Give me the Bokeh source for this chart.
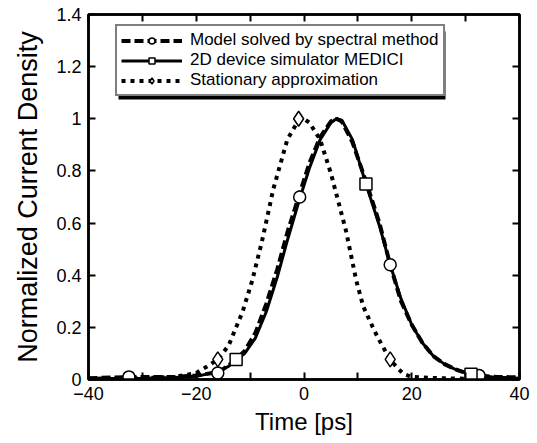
from bokeh.plotting import figure
from bokeh.models import (Range1d, LinearAxis, FixedTicker, CustomJSTickFormatter,
                          Legend, LegendItem, BoxAnnotation)
from bokeh.embed import file_html
from bokeh.resources import INLINE

# ---- data ----
model_x = [-40, -32, -24, -20, -17, -15, -13, -11, -9, -7, -5, -3, -1, 1, 3, 5, 6, 7, 9, 11.5,
           14, 16, 18, 20, 22, 24, 26, 28, 30, 32, 36, 40]
model_y = [0.005, 0.01, 0.01, 0.015, 0.025, 0.04, 0.07, 0.11, 0.18, 0.29, 0.42, 0.57, 0.70, 0.83,
           0.93, 0.99, 1.0, 0.99, 0.91, 0.76, 0.60, 0.44, 0.30, 0.21, 0.14, 0.09, 0.06, 0.04,
           0.025, 0.015, 0.01, 0.008]
model_mx = [-32.5, -16, -0.8, 16, 32.5]
model_my = [0.01, 0.025, 0.70, 0.44, 0.015]

medici_x = [-40, -30, -24, -20, -16, -14, -12.6, -11, -9, -7, -5, -3, -1, 1, 3, 5, 6, 7, 9, 11.5,
            14, 16, 18, 20, 22, 24, 26, 28, 31, 35, 40]
medici_y = [0.003, 0.005, 0.008, 0.012, 0.03, 0.05, 0.077, 0.10, 0.16, 0.26, 0.39, 0.54, 0.68,
            0.81, 0.92, 0.985, 1.0, 0.995, 0.92, 0.75, 0.59, 0.44, 0.31, 0.21, 0.14, 0.09, 0.06,
            0.04, 0.02, 0.01, 0.005]
medici_mx = [-12.6, 11.5, 31]
medici_my = [0.077, 0.75, 0.02]

stat_x = [-40, -30, -24, -20, -18, -16, -14, -13.4, -11.4, -9.6, -7.8, -5.7, -3.1, -1, 0, 1, 3,
          5, 7.8, 9.7, 11, 13, 14.5, 16, 17.5, 18.6, 20, 25, 30, 40]
stat_y = [0.003, 0.005, 0.01, 0.025, 0.05, 0.077, 0.13, 0.16, 0.26, 0.38, 0.53, 0.73, 0.92, 0.995,
          1.0, 0.985, 0.92, 0.79, 0.57, 0.38, 0.28, 0.19, 0.13, 0.077, 0.04, 0.02, 0.01, 0.005,
          0.003, 0.002]
stat_mx = [-16, -1, 16]
stat_my = [0.077, 1.0, 0.077]

x_ticks = [-40, -30, -20, -10, 0, 10, 20, 30, 40]
y_ticks = [0, 0.2, 0.4, 0.6, 0.8, 1.0, 1.2, 1.4]

labels = ["Model solved by spectral method", "2D device simulator MEDICI",
          "Stationary approximation"]

FONT = "Liberation Sans"

p = figure(width=537, height=443, output_backend="svg", toolbar_location=None,
           x_range=Range1d(-40, 40), y_range=Range1d(0, 1.4),
           min_border_left=88, min_border_right=18, min_border_top=14, min_border_bottom=64)
p.background_fill_color = "white"
p.border_fill_color = "white"
p.grid.visible = False
p.outline_line_color = "black"
p.outline_line_width = 2.5

xfmt = CustomJSTickFormatter(code="""
if (Math.round(tick) % 20 != 0) { return ''; }
return tick < 0 ? '\u2212' + Math.abs(tick) : String(tick);
""")
yfmt = CustomJSTickFormatter(code="return String(Number(tick.toFixed(1)));")
blankfmt = CustomJSTickFormatter(code="return '';")

def style_axis(ax, labels_on=True):
    ax.axis_line_color = "black"
    ax.axis_line_width = 2.5
    ax.major_tick_in = 7
    ax.major_tick_out = 0
    ax.major_tick_line_width = 2
    ax.minor_tick_line_color = None
    if labels_on:
        ax.major_label_text_font = FONT
        ax.major_label_text_font_size = "18px"
        ax.major_label_text_color = "black"
    else:
        ax.formatter = blankfmt
        ax.major_label_text_font_size = "1px"
        ax.major_label_standoff = 0

xa = p.xaxis[0]
xa.ticker = FixedTicker(ticks=x_ticks)
xa.formatter = xfmt
style_axis(xa)
xa.major_label_standoff = 7
xa.axis_label = "Time [ps]"
xa.axis_label_text_font = FONT
xa.axis_label_text_font_size = "24px"
xa.axis_label_text_font_style = "normal"
xa.axis_label_text_color = "black"
xa.axis_label_standoff = 5

ya = p.yaxis[0]
ya.ticker = FixedTicker(ticks=y_ticks)
ya.formatter = yfmt
style_axis(ya)
ya.major_label_standoff = 7
ya.axis_label = "Normalized Current Density"
ya.axis_label_text_font = FONT
ya.axis_label_text_font_size = "27px"
ya.axis_label_text_font_style = "normal"
ya.axis_label_text_color = "black"
ya.axis_label_standoff = 10

ta = LinearAxis(ticker=FixedTicker(ticks=x_ticks))
style_axis(ta, labels_on=False)
p.add_layout(ta, "above")
ra = LinearAxis(ticker=FixedTicker(ticks=y_ticks))
style_axis(ra, labels_on=False)
p.add_layout(ra, "right")

# ---- curves ----
l_med = p.line(medici_x, medici_y, line_color="black", line_width=3)
l_mod = p.line(model_x, model_y, line_color="black", line_width=4, line_dash="9 4")
l_sta = p.line(stat_x, stat_y, line_color="black", line_width=4, line_dash="4 5")

s_mod = p.scatter(model_mx, model_my, marker="circle", size=12, fill_color="white",
                  line_color="black", line_width=1.5)
s_med = p.scatter(medici_mx, medici_my, marker="square", size=12, fill_color="white",
                  line_color="black", line_width=1.5)
s_sta = p.scatter(stat_mx, stat_my, marker="diamond", size=15, fill_color="white",
                  line_color="black", line_width=1.5)

# legend drop shadow (screen units relative to the frame)
shadow = BoxAnnotation(left=30, right=357, bottom=280, top=348,
                       left_units="screen", right_units="screen",
                       top_units="screen", bottom_units="screen",
                       fill_color="black", fill_alpha=1.0, line_color=None)
p.add_layout(shadow, "center")

legend = Legend(items=[
    LegendItem(label=labels[0], renderers=[l_mod, s_mod]),
    LegendItem(label=labels[1], renderers=[l_med, s_med]),
    LegendItem(label=labels[2], renderers=[l_sta, s_sta]),
], location=(27, 283))
legend.label_text_font = FONT
legend.label_text_font_size = "17px"
legend.label_text_line_height = 0.8
legend.label_text_color = "black"
legend.glyph_width = 61
legend.glyph_height = 15
legend.label_height = 15
legend.label_standoff = 8
legend.spacing = 0
legend.padding = 4
legend.margin = 0
legend.border_line_color = "black"
legend.border_line_width = 2
legend.background_fill_color = "white"
legend.background_fill_alpha = 1.0
p.add_layout(legend, "center")

open("out.html", "w").write(file_html(p, INLINE))
